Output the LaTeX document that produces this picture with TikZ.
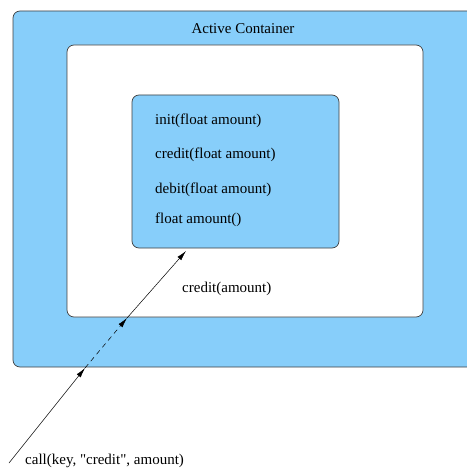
\documentclass[tikz,border=0pt]{standalone}
\usepackage{fontspec}
\setmainfont[Ligatures=TeXOff]{Liberation Serif}
\usetikzlibrary{arrows.meta}
\definecolor{containerBlue}{RGB}{135,206,250}
\begin{document}
\begin{tikzpicture}[x=1pt,y=-1pt,%%
  containerStyle/.style={draw=black!75,fill=containerBlue,rounded corners=7pt,line width=0.7pt,inner sep=0pt},%%
  spaceStyle/.style={draw=black!75,fill=white,rounded corners=7pt,line width=0.7pt,inner sep=0pt},%%
  objectStyle/.style={draw=black!75,fill=containerBlue,rounded corners=7pt,line width=0.7pt,inner sep=0pt},%%
  labelStyle/.style={font=\fontsize{15}{17}\selectfont,inner sep=0pt},%%
  methodStyle/.style={labelStyle,anchor=west},%%
  callStyle/.style={-{Latex[length=10pt,width=5pt]},line width=0.5pt}
]
\useasboundingbox (0,0) rectangle (466,470);
%%
%% The boxes.
\node[containerStyle,minimum width=467pt,minimum height=356pt] (container) at (246.5,189) {};
\node[spaceStyle,minimum width=356pt,minimum height=272pt] (space) at (245,181) {};
\node[objectStyle,minimum width=207pt,minimum height=153pt] (account) at (235.5,171.5) {};
%%
%% The texts.
\node[labelStyle] (title) at (243,29) {Active Container};
\node[methodStyle] (init) at (155,121) {init(float amount)};
\node[methodStyle] (credit) at (155,155) {credit(float amount)};
\node[methodStyle] (debit) at (155,190) {debit(float amount)};
\node[methodStyle] (amount) at (155,220) {float amount()};
\node[labelStyle,anchor=west] (message) at (182,289) {credit(amount)};
\node[labelStyle,anchor=west] (call) at (25,461) {call(key, "credit", amount)};
%%
%% The call path.
\coordinate (caller) at (9,463);
\coordinate (outerHit) at (85,368);
\coordinate (innerHit) at (127,318);
\coordinate (objectHit) at (186,251);
\draw[callStyle] (caller) -- (outerHit);
\draw[callStyle,dash pattern=on 5pt off 4pt] (outerHit) -- (innerHit);
\draw[callStyle] (innerHit) -- (objectHit);
\end{tikzpicture}
\end{document}
